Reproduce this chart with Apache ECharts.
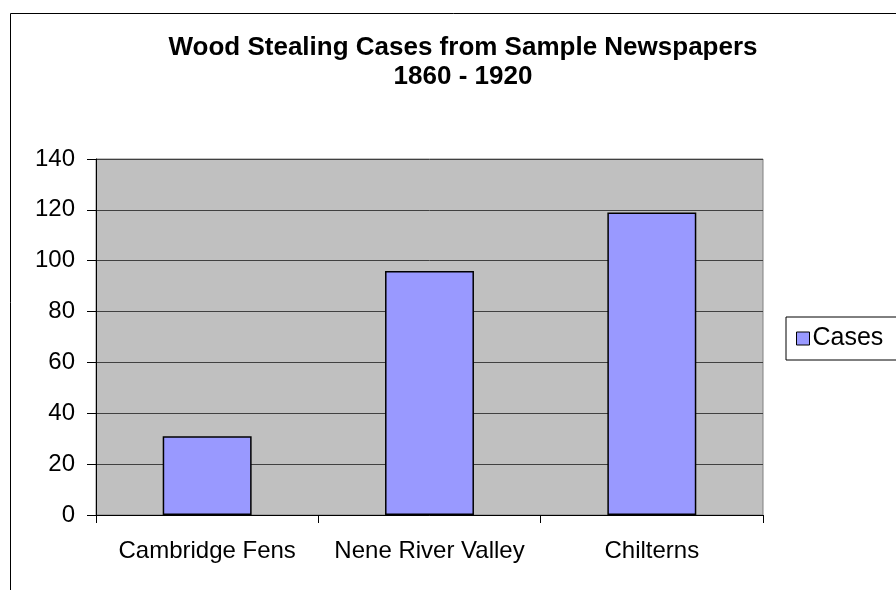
<!DOCTYPE html>
<html>
<head>
<meta charset="utf-8">
<script src="https://cdn.jsdelivr.net/npm/echarts@6/dist/echarts.min.js"></script>
<style>
  body { margin: 0; background: #fff; }
  #chart { width: 896px; height: 590px; }
</style>
</head>
<body>
<div id="chart"></div>
<script>
// data
var regions = ["Cambridge Fens", "Nene River Valley", "Chilterns"];
var cases = [31, 96, 119];
var yTicks = { min: 0, max: 140, step: 20 };

var font = "Liberation Sans, Arial, sans-serif";
var myChart = echarts.init(document.getElementById("chart"));

myChart.setOption({
  animation: false,
  textStyle: { fontFamily: font, color: "#000" },
  title: {
    text: "Wood Stealing Cases from Sample Newspapers\n1860 - 1920",
    left: 458,
    textAlign: "center",
    top: 28,
    textStyle: { fontSize: 26, fontWeight: "bold", lineHeight: 29, color: "#000", fontFamily: font }
  },
  // outer chart frame
  graphic: [{
    type: "rect",
    z: -10,
    shape: { x: 10.5, y: 13.5, width: 920, height: 620 },
    style: { fill: "none", stroke: "#000", lineWidth: 1 }
  }],
  legend: {
    data: ["Cases"],
    left: 786,
    top: 317,
    orient: "vertical",
    icon: "rect",
    itemWidth: 13,
    itemHeight: 13,
    itemGap: 0,
    padding: [9, 30, 9, 10],
    borderColor: "#000",
    borderWidth: 1,
    borderRadius: 0,
    textStyle: { fontSize: 25, color: "#000", fontFamily: font, padding: [0, 0, 0, -2] },
    itemStyle: { borderColor: "#000", borderWidth: 1 }
  },
  grid: {
    left: 96,
    right: 133,
    top: 159,
    bottom: 75,
    show: true,
    backgroundColor: "#C0C0C0",
    borderColor: "#808080",
    borderWidth: 1
  },
  xAxis: {
    type: "category",
    data: regions,
    axisLine: { lineStyle: { color: "#000", width: 1 } },
    axisTick: { show: true, length: 8, lineStyle: { color: "#000" } },
    axisLabel: { interval: 0, hideOverlap: false, fontSize: 24, color: "#000", margin: 24, fontFamily: font }
  },
  yAxis: {
    type: "value",
    min: yTicks.min,
    max: yTicks.max,
    interval: yTicks.step,
    axisLine: { show: true, lineStyle: { color: "#000", width: 1 } },
    axisTick: { show: true, length: 9, lineStyle: { color: "#000" } },
    axisLabel: { fontSize: 24, color: "#000", margin: 21, fontFamily: font },
    splitLine: { show: true, lineStyle: { color: "#404040", width: 1 } }
  },
  series: [{
    name: "Cases",
    type: "bar",
    data: cases,
    barCategoryGap: "60%",
    itemStyle: { color: "#9999FF", borderColor: "#000", borderWidth: 1.5 }
  }]
});
</script>
</body>
</html>
